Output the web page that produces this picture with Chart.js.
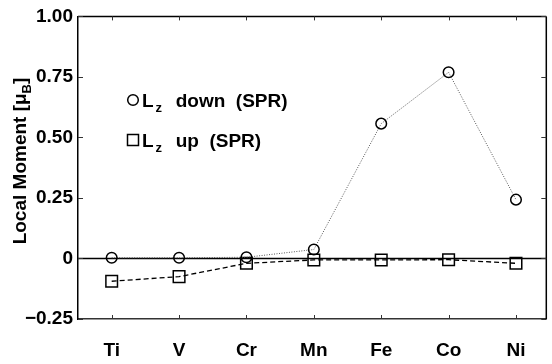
<!DOCTYPE html>
<html lang="en">
<head>
<meta charset="UTF-8">
<title>Local Moment</title>
<script src="https://cdn.jsdelivr.net/npm/chart.js"></script>
<style>
  html, body { margin: 0; padding: 0; background: #fff; overflow: hidden; }
  #wrap { width: 552px; height: 364px; overflow: hidden; }
</style>
</head>
<body>
<div id="wrap"><canvas id="momentChart" width="556" height="364"></canvas></div>
<script>
// orbital moments per 3d element
const elements = ['Ti', 'V', 'Cr', 'Mn', 'Fe', 'Co', 'Ni'];
const lzDown = [0.003, 0.003, 0.005, 0.037, 0.557, 0.769, 0.243];
const lzUp = [-0.094, -0.075, -0.020, -0.006, -0.006, -0.005, -0.020];
const yTicks = [-0.25, 0, 0.25, 0.5, 0.75, 1.0];
const yTickLabels = ['\u22120.25', '0', '0.25', '0.50', '0.75', '1.00'];

const FONT = '"Liberation Sans", Arial, sans-serif';
Chart.defaults.font.family = FONT;
Chart.defaults.font.weight = 'bold';
Chart.defaults.font.size = 19;
Chart.defaults.color = '#000';

// text with a subscript part, returns end x
function subText(ctx, parts, x, y) {
  parts.forEach(p => {
    ctx.font = 'bold ' + (p.sub ? 13 : 19) + 'px ' + FONT;
    x += p.pre || 0;
    ctx.fillText(p.t, x, y + (p.sub ? 5 : 0));
    x += ctx.measureText(p.t).width + (p.post || 0);
  });
  return x;
}

const framePlugin = {
  id: 'frame',
  beforeDatasetsDraw(chart) {
    const { ctx, chartArea: a, scales: { x, y } } = chart;
    ctx.save();
    ctx.strokeStyle = '#000';
    ctx.lineWidth = 1.5;
    const y0 = y.getPixelForValue(0);
    ctx.beginPath();
    ctx.moveTo(a.left, y0); ctx.lineTo(a.right, y0);
    ctx.moveTo(a.left, a.top); ctx.lineTo(a.right, a.top);
    ctx.moveTo(a.right, a.top); ctx.lineTo(a.right, a.bottom);
    ctx.stroke();
    // inward ticks on all four sides
    ctx.lineWidth = 1;
    ctx.strokeStyle = '#333';
    ctx.beginPath();
    x.ticks.forEach(t => {
      const px = Math.round(x.getPixelForValue(t.value)) + 0.5;
      ctx.moveTo(px, a.bottom); ctx.lineTo(px, a.bottom - 4);
      ctx.moveTo(px, a.top); ctx.lineTo(px, a.top + 4);
    });
    y.ticks.forEach(t => {
      const py = Math.round(y.getPixelForValue(t.value)) + 0.5;
      ctx.moveTo(a.left, py); ctx.lineTo(a.left + 5, py);
      ctx.moveTo(a.right, py); ctx.lineTo(a.right - 5, py);
    });
    ctx.stroke();
    ctx.restore();
  },
  afterDraw(chart) {
    const ctx = chart.ctx;
    ctx.save();
    ctx.fillStyle = '#000';
    ctx.strokeStyle = '#000';
    ctx.lineWidth = 1.5;
    ctx.textBaseline = 'alphabetic';

    // legend
    ctx.beginPath();
    ctx.arc(133, 100, 5.3, 0, Math.PI * 2);
    ctx.stroke();
    subText(ctx, [{ t: 'L' }, { t: 'z', sub: true, pre: 2, post: 3 }, { t: '  down  (SPR)' }], 142, 107);
    ctx.strokeRect(127.5, 134.5, 11, 11);
    subText(ctx, [{ t: 'L' }, { t: 'z', sub: true, pre: 2, post: 3 }, { t: '  up  (SPR)' }], 142, 147);

    // y axis title
    ctx.translate(25.5, 161);
    ctx.rotate(-Math.PI / 2);
    const parts = [{ t: 'Local Moment [\u03bc' }, { t: 'B', sub: true }, { t: ']' }];
    let w = 0;
    parts.forEach(p => {
      ctx.font = 'bold ' + (p.sub ? 13 : 19) + 'px ' + FONT;
      w += ctx.measureText(p.t).width;
    });
    subText(ctx, parts, -w / 2, 0);
    ctx.restore();
  }
};

const toPoints = arr => arr.map((v, i) => ({ x: i + 1, y: v }));

new Chart(document.getElementById('momentChart'), {
  type: 'line',
  data: {
    datasets: [
      {
        label: 'Lz down (SPR)',
        data: toPoints(lzDown),
        borderColor: '#555',
        borderWidth: 1,
        borderDash: [1, 1.5],
        pointStyle: 'circle',
        pointRadius: 5.3,
        pointBorderWidth: 1.5,
        pointBorderColor: '#000',
        pointBackgroundColor: 'rgba(0,0,0,0)',
        fill: false
      },
      {
        label: 'Lz up (SPR)',
        data: toPoints(lzUp),
        borderColor: '#000',
        borderWidth: 1.3,
        borderDash: [5, 3],
        pointStyle: 'rect',
        pointRadius: 8.2,
        pointBorderWidth: 1.5,
        pointBorderColor: '#000',
        pointBackgroundColor: 'rgba(0,0,0,0)',
        fill: false
      }
    ]
  },
  options: {
    responsive: false,
    animation: false,
    layout: { padding: { top: 11, right: 3, left: 0, bottom: 0 } },
    plugins: { legend: { display: false }, tooltip: { enabled: false } },
    scales: {
      x: {
        type: 'linear',
        min: 0.5,
        max: 7.45,
        afterBuildTicks: s => { s.ticks = elements.map((_, i) => ({ value: i + 1 })); },
        afterFit: s => { s.height = 45; },
        ticks: {
          padding: 20,
          maxRotation: 0,
          callback: v => elements[v - 1] || ''
        },
        grid: { display: false, drawTicks: false },
        border: { display: true, color: '#333', width: 1.5 }
      },
      y: {
        min: -0.25,
        max: 1,
        afterBuildTicks: s => { s.ticks = yTicks.map(v => ({ value: v })); },
        afterFit: s => { s.width = 78; },
        ticks: {
          padding: 5,
          callback: (v, i) => yTickLabels[i]
        },
        grid: { display: false, drawTicks: false },
        border: { display: true, color: '#000', width: 1.5 }
      }
    }
  },
  plugins: [framePlugin]
});
</script>
</body>
</html>
